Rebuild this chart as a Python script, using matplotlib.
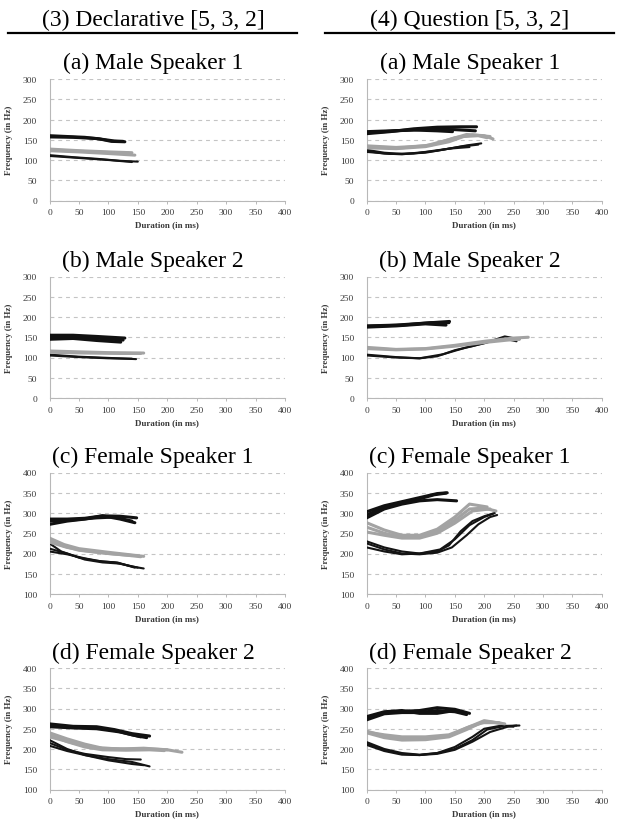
import matplotlib
matplotlib.use("Agg")
import matplotlib.pyplot as plt

plt.rcParams['font.family'] = ['Liberation Serif', 'DejaVu Serif']

# ---------------- data (time in ms, frequency in Hz) ----------------
column_headers = ["(3) Declarative [5, 3, 2]", "(4) Question [5, 3, 2]"]
row_titles = ["(a) Male Speaker 1", "(b) Male Speaker 2",
              "(c) Female Speaker 1", "(d) Female Speaker 2"]
male_yticks = [0, 50, 100, 150, 200, 250, 300]
female_yticks = [100, 150, 200, 250, 300, 350, 400]
xticks = [0, 50, 100, 150, 200, 250, 300, 350, 400]

# Declarative, Male speaker 1
decl_m1_high = [([0, 30, 60, 85, 105, 128], [160, 158, 156, 152, 146, 145]),
                ([0, 40, 80, 110, 125], [157, 156, 153, 147, 146])]
decl_m1_mid = [([0, 50, 100, 140], [127, 123, 120, 118]),
               ([0, 50, 100, 145], [123, 120, 116, 112]),
               ([0, 60, 110, 135], [125, 121, 118, 117])]
decl_m1_low = [([0, 40, 80, 120, 150], [112, 107, 103, 98, 96]),
               ([0, 50, 100, 140], [110, 105, 100, 95])]

# Question, Male speaker 1
ques_m1_high = [([0, 40, 80, 120, 160, 187], [165, 170, 177, 181, 182, 182]),
                ([0, 40, 80, 120, 146], [170, 172, 174, 172, 170]),
                ([0, 50, 100, 150, 185], [167, 172, 176, 175, 172])]
ques_m1_mid = [([0, 50, 100, 140, 170, 200, 215], [135, 131, 135, 150, 163, 160, 152]),
               ([0, 50, 100, 140, 165, 190, 205], [130, 128, 133, 145, 158, 160, 155]),
               ([0, 60, 110, 150, 180, 210], [132, 130, 137, 155, 162, 158])]
ques_m1_low = [([0, 30, 60, 100, 140, 170, 195], [125, 118, 115, 118, 128, 136, 141]),
               ([0, 30, 60, 100, 140, 175], [122, 116, 114, 120, 128, 132]),
               ([0, 40, 80, 120, 160, 190], [120, 115, 116, 123, 133, 138])]

# Declarative, Male speaker 2
decl_m2_high = [([0, 40, 80, 128], [155, 155, 152, 148]),
                ([0, 40, 80, 121], [145, 147, 142, 138]),
                ([0, 50, 100, 125], [150, 150, 146, 143])]
decl_m2_mid = [([0, 50, 100, 160], [116, 114, 112, 111]),
               ([0, 60, 120, 155], [113, 111, 110, 110])]
decl_m2_low = [([0, 50, 100, 147], [107, 102, 99, 96]),
               ([0, 50, 100, 140], [105, 101, 98, 97])]

# Question, Male speaker 2
ques_m2_high = [([0, 50, 100, 141], [178, 180, 185, 189]),
                ([0, 50, 100, 135], [175, 178, 183, 180]),
                ([0, 60, 110, 140], [177, 180, 186, 186])]
ques_m2_mid = [([0, 50, 100, 150, 200, 250, 275], [125, 120, 122, 130, 140, 148, 150]),
               ([0, 50, 100, 150, 200, 240, 260], [122, 119, 121, 128, 137, 143, 145])]
ques_m2_low = [([0, 50, 90, 120, 150, 180, 210, 235, 260], [107, 101, 98, 103, 118, 128, 140, 152, 145]),
               ([0, 50, 90, 130, 170, 200, 230, 255], [105, 100, 98, 108, 125, 135, 148, 140])]

# Declarative, Female speaker 1
decl_f1_high = [([0, 30, 60, 90, 120, 148], [285, 285, 287, 293, 292, 288]),
                ([0, 30, 60, 90, 120, 145], [272, 280, 285, 293, 285, 276]),
                ([0, 40, 80, 110, 140], [280, 283, 288, 290, 280])]
decl_f1_mid = [([0, 25, 50, 100, 130, 160], [238, 222, 212, 203, 198, 193]),
               ([0, 25, 50, 100, 130, 155], [232, 218, 208, 200, 196, 192]),
               ([0, 30, 60, 100, 140], [228, 215, 207, 200, 195])]
decl_f1_low = [([0, 20, 50, 80, 110, 140, 160], [225, 205, 190, 182, 178, 168, 163]),
               ([0, 30, 60, 90, 115, 145], [205, 198, 188, 180, 178, 165]),
               ([0, 30, 60, 90, 120, 150], [212, 200, 185, 178, 175, 165])]

# Question, Female speaker 1
ques_f1_high = [([0, 30, 60, 90, 120, 137], [303, 318, 328, 338, 348, 350]),
                ([0, 30, 60, 90, 120, 153], [288, 310, 322, 330, 333, 330]),
                ([0, 30, 60, 90, 115, 135], [295, 315, 326, 335, 345, 349])]
ques_f1_mid = [([0, 30, 60, 90, 120, 150, 175, 205], [276, 258, 245, 245, 260, 290, 322, 315]),
               ([0, 30, 60, 90, 120, 150, 175, 200, 220], [265, 250, 240, 240, 255, 282, 310, 312, 305]),
               ([0, 30, 60, 90, 120, 150, 180, 210], [253, 245, 238, 238, 250, 275, 305, 310])]
ques_f1_low = [([0, 30, 60, 90, 120, 140, 160, 180, 200, 218], [230, 215, 205, 200, 205, 220, 255, 280, 292, 300]),
               ([0, 30, 60, 90, 120, 145, 170, 190, 210, 222], [225, 210, 200, 198, 202, 215, 245, 272, 290, 295]),
               ([0, 30, 60, 90, 125, 150, 175, 200, 215], [215, 205, 198, 200, 210, 235, 270, 290, 298])]

# Declarative, Female speaker 2
decl_f2_high = [([0, 40, 80, 110, 140, 170], [262, 256, 255, 248, 238, 232]),
                ([0, 40, 80, 110, 140, 165], [258, 254, 252, 246, 235, 228]),
                ([0, 40, 80, 120, 155], [255, 252, 250, 242, 230])]
decl_f2_mid = [([0, 30, 60, 90, 130, 170, 200, 225], [240, 225, 212, 202, 200, 200, 198, 192]),
               ([0, 30, 60, 90, 130, 170, 195], [235, 218, 205, 198, 197, 198, 196]),
               ([0, 40, 80, 120, 160, 200], [230, 215, 203, 200, 202, 198])]
decl_f2_low = [([0, 30, 60, 100, 140, 170], [222, 200, 185, 175, 168, 157]),
               ([0, 30, 60, 100, 130, 155], [215, 198, 188, 180, 175, 174]),
               ([0, 30, 60, 100, 140, 160], [208, 195, 185, 172, 163, 160])]

# Question, Female speaker 2
ques_f2_high = [([0, 30, 60, 90, 120, 150, 175], [278, 290, 293, 295, 302, 298, 288]),
                ([0, 30, 60, 90, 120, 150, 170], [272, 287, 290, 290, 295, 292, 285]),
                ([0, 30, 60, 90, 120, 150, 165], [280, 292, 295, 288, 288, 295, 290])]
ques_f2_mid = [([0, 30, 60, 100, 140, 170, 200, 235], [244, 232, 225, 225, 232, 252, 270, 262]),
               ([0, 30, 60, 100, 140, 170, 195, 225], [240, 228, 222, 223, 230, 248, 265, 265]),
               ([0, 30, 60, 100, 140, 175, 205, 230], [242, 235, 230, 230, 235, 255, 268, 263])]
ques_f2_low = [([0, 30, 60, 90, 120, 150, 180, 205, 235, 260], [217, 200, 190, 186, 190, 200, 222, 248, 257, 258]),
               ([0, 30, 60, 90, 120, 150, 180, 210, 240, 255], [213, 197, 188, 185, 188, 198, 218, 242, 255, 258]),
               ([0, 30, 60, 90, 120, 150, 180, 200, 230, 250], [210, 195, 186, 185, 190, 205, 230, 250, 258, 255])]

panels = [
    [(decl_m1_high, decl_m1_mid, decl_m1_low), (ques_m1_high, ques_m1_mid, ques_m1_low)],
    [(decl_m2_high, decl_m2_mid, decl_m2_low), (ques_m2_high, ques_m2_mid, ques_m2_low)],
    [(decl_f1_high, decl_f1_mid, decl_f1_low), (ques_f1_high, ques_f1_mid, ques_f1_low)],
    [(decl_f2_high, decl_f2_mid, decl_f2_low), (ques_f2_high, ques_f2_mid, ques_f2_low)],
]

# ---------------- layout ----------------
W, H = 619, 820
fig = plt.figure(figsize=(W / 100, H / 100), dpi=100)

def fx(px):
    return px / W

def fy(py):
    return 1 - py / H

col_left = [49.5, 366.7]
col_width = [235.5, 235.0]
col_center = [153, 470]
row_top = [80, 277.5, 473.5, 669]
ax_h = 121.5

# column headers with underline
for c in range(2):
    fig.text(fx(col_center[c]), fy(26), column_headers[c], ha='center', va='baseline',
             fontsize=17, color='black')
underlines = [(8, 297), (325, 614)]
for x0, x1 in underlines:
    fig.add_artist(plt.Line2D([fx(x0), fx(x1)], [fy(34), fy(34)], color='black',
                              linewidth=1.6, transform=fig.transFigure))

grid_col = '#c4c4c4'
for r in range(4):
    yt = male_yticks if r < 2 else female_yticks
    for c in range(2):
        ax = fig.add_axes([fx(col_left[c]), fy(row_top[r] + ax_h), fx(col_width[c]), ax_h / H])
        high, mid, low = panels[r][c]
        for t, f in low:
            ax.plot(t, f, color='#141414', linewidth=1.5, solid_capstyle='round', solid_joinstyle='round', zorder=3)
        for t, f in mid:
            ax.plot(t, f, color='#a3a3a3', linewidth=2.2, solid_capstyle='round', solid_joinstyle='round', zorder=3)
        for t, f in high:
            ax.plot(t, f, color='#111111', linewidth=2.2, solid_capstyle='round', solid_joinstyle='round', zorder=3)
        ax.set_xlim(0, 400)
        ax.set_ylim(yt[0], yt[-1])
        ax.set_xticks(xticks)
        ax.set_yticks(yt)
        ax.set_xticklabels([str(v) for v in xticks])
        ax.set_yticklabels([str(v) for v in yt])
        for s in ['top', 'right']:
            ax.spines[s].set_visible(False)
        for s in ['left', 'bottom']:
            ax.spines[s].set_color('#b8b8b8')
            ax.spines[s].set_linewidth(0.8)
        ax.tick_params(axis='x', length=2.5, width=0.7, color='#b8b8b8', labelsize=6.8,
                       labelcolor='#3a3a3a', pad=3)
        ax.tick_params(axis='y', length=0, labelsize=6.8, labelcolor='#3a3a3a', pad=9)
        ax.grid(axis='y', color=grid_col, linestyle=(0, (3.5, 3.5)), linewidth=0.8)
        ax.set_axisbelow(True)
        ax.set_xlabel('Duration (in ms)', fontsize=6.5, fontweight='bold', color='#3a3a3a', labelpad=3)
        ax.set_ylabel('Frequency (in Hz)', fontsize=6.5, fontweight='bold', color='#3a3a3a', labelpad=7)
        fig.text(fx(col_center[c]), fy(row_top[r] - 10.5), row_titles[r], ha='center',
                 va='baseline', fontsize=17, color='black')

fig.savefig('out.png', dpi=100)
